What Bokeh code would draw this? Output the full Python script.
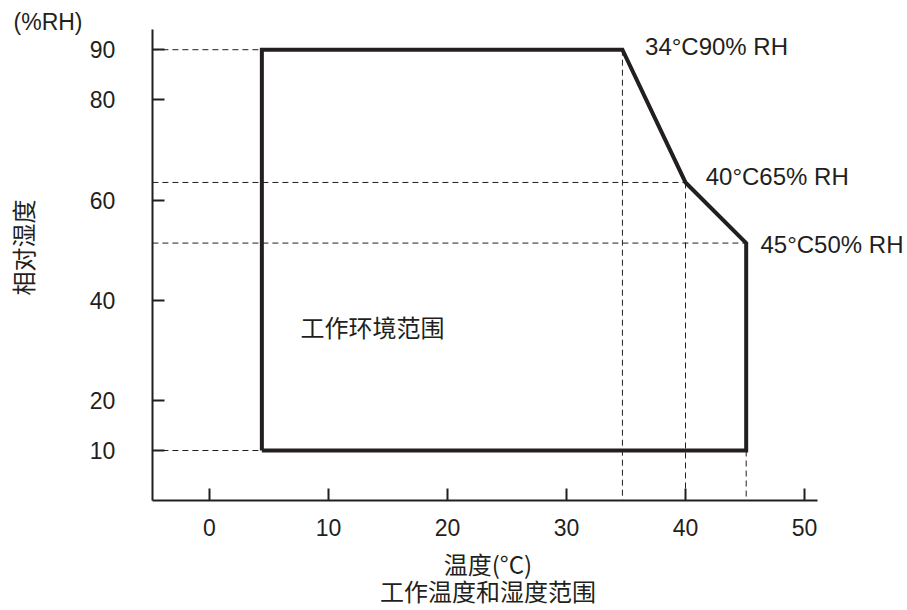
from bokeh.plotting import figure
from bokeh.models import Range1d, FixedTicker, Label
from bokeh.embed import file_html
from bokeh.resources import INLINE
import math

# --- data ---
temp_c = [4.4, 4.4, 34.7, 40.0, 45.1, 45.1, 4.4]
rh_pct = [10, 90, 90, 63.5, 51.4, 10, 10]
x_ticks = [0, 10, 20, 30, 40, 50]
y_ticks = [10, 20, 40, 60, 80, 90]
corner_labels = ["34°C90% RH", "40°C65% RH", "45°C50% RH"]

INK = "#231f20"
LATIN = "Liberation Sans"
CJK = "Noto Sans CJK SC"

# axis extents
ax_x0, ax_x1 = -4.8, 51.1
ax_y0, ax_y1 = 0, 94

W, H = 906, 609
xs = -209 / 11.9
xe = xs + W / 11.9
ye = 10 + 450 / 5.01
ys = ye - H / 5.01

p = figure(width=W, height=H, output_backend="svg", toolbar_location=None,
           x_range=Range1d(xs, xe), y_range=Range1d(ys, ye),
           min_border=0, min_border_left=0, min_border_right=0,
           min_border_top=0, min_border_bottom=0)
p.grid.visible = False
p.outline_line_color = None
p.background_fill_color = "white"

for ax in (p.xaxis[0], p.yaxis[0]):
    ax.axis_line_color = INK
    ax.axis_line_width = 2
    ax.major_tick_line_color = INK
    ax.major_tick_line_width = 2
    ax.major_tick_in = 12
    ax.major_tick_out = 0
    ax.minor_tick_line_color = None
    ax.major_label_text_font = LATIN
    ax.major_label_text_font_size = "23px"
    ax.major_label_text_color = INK

p.xaxis.ticker = FixedTicker(ticks=x_ticks)
p.yaxis.ticker = FixedTicker(ticks=y_ticks)
p.xaxis.fixed_location = ax_y0
p.yaxis.fixed_location = ax_x0
p.xaxis.bounds = (ax_x0, ax_x1)
p.yaxis.bounds = (ax_y0, ax_y1)
p.xaxis.major_label_standoff = 18
p.yaxis.major_label_standoff = 37

# dashed guide lines
hy = [rh_pct[1], rh_pct[0], rh_pct[3], rh_pct[4]]
hx1 = [temp_c[1], temp_c[0], temp_c[3], temp_c[4]]
p.segment(x0=[ax_x0] * 4, y0=hy, x1=hx1, y1=hy, line_color=INK, line_width=1, line_dash="6 4")
vx = [temp_c[2], temp_c[3], temp_c[5]]
vy0 = [rh_pct[2], rh_pct[3], rh_pct[5]]
p.segment(x0=vx, y0=vy0, x1=vx, y1=[ax_y0] * 3, line_color=INK, line_width=1, line_dash="6 4")

# operating range outline
p.line(temp_c, rh_pct, line_color=INK, line_width=4, line_join="miter")

# corner annotations
pos = [(36.6, 90.6), (41.7, 64.7), (46.3, 51.1)]
for (lx, ly), t in zip(pos, corner_labels):
    p.add_layout(Label(x=lx, y=ly, text=t, text_align="left", text_baseline="middle",
                       text_font=LATIN, text_font_size="24px", text_color=INK))

p.add_layout(Label(x=7.65, y=34.7, text="工作环境范围", text_align="left", text_baseline="middle",
                   text_font=CJK, text_font_size="24px", text_color=INK))
p.add_layout(Label(x=-13.57, y=95.5, text="(%RH)", text_align="center", text_baseline="middle",
                   text_font=LATIN, text_font_size="23px", text_color=INK))
p.add_layout(Label(x=23.4, y=-12.6, text="温度(°C)", text_align="center", text_baseline="middle",
                   text_font=CJK, text_font_size="24px", text_color=INK))
p.add_layout(Label(x=23.4, y=-17.9, text="工作温度和湿度范围", text_align="center", text_baseline="middle",
                   text_font=CJK, text_font_size="24px", text_color=INK))
p.add_layout(Label(x=-15.74, y=50.5, text="相对湿度", angle=math.pi / 2, text_align="center",
                   text_baseline="middle", text_font=CJK, text_font_size="24px", text_color=INK))

open("out.html", "w").write(file_html(p, INLINE))
